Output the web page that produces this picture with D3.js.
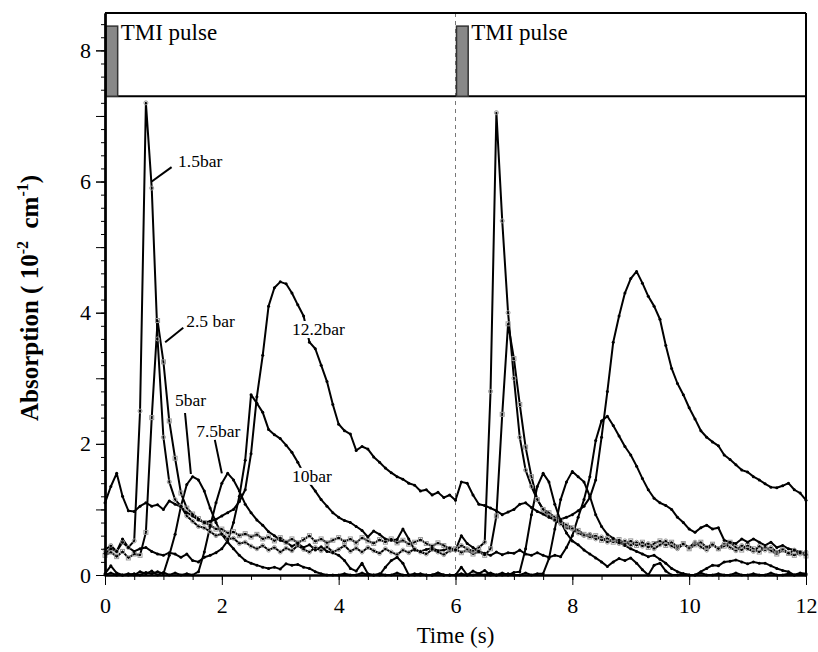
<!DOCTYPE html>
<html>
<head>
<meta charset="utf-8">
<script src="https://cdn.jsdelivr.net/npm/d3@7"></script>
<style>
body { margin: 0; background: #fff; }
svg, svg text { font-family: "Liberation Serif", "Times New Roman", serif; }
</style>
</head>
<body>
<script>
// absorption traces, sampled every 0.1 s from 0 to 12 s (10^-2 cm^-1)
var sampleStep = 0.1;

var p15 = [
 0.38,0.45,0.36,0.50,0.42,0.52,
 2.5,7.2,5.9,3.6,2.1,1.42,1.15,1.05,0.9,0.82,0.74,0.72,0.66,0.6,
 0.63,0.55,0.56,0.48,0.5,0.44,0.4,0.45,0.38,0.42,
 0.35,0.41,0.37,0.45,0.39,0.35,0.42,0.37,0.43,0.35,
 0.39,0.45,0.36,0.41,0.35,0.42,0.37,0.33,0.4,0.35,
 0.31,0.38,0.34,0.4,0.35,0.32,0.39,0.35,0.31,0.37,
 0.38,0.45,0.4,0.36,0.42,0.5,
 2.8,7.05,5.4,4.0,3.0,2.1,1.6,1.35,1.15,1.0,0.9,0.84,0.78,0.72,
 0.7,0.64,0.6,0.62,0.55,0.58,0.5,0.54,0.48,0.52,
 0.45,0.5,0.44,0.48,0.4,0.46,0.52,0.44,0.4,0.47,
 0.42,0.5,0.43,0.38,0.46,0.4,0.48,0.42,0.37,0.45,
 0.4,0.36,0.44,0.38,0.42,0.35,0.4,0.33,0.38,0.32,0.35
];
var p25 = [
 0.3,0.35,0.28,0.36,0.26,0.32,0.3,
 0.65,2.4,3.88,3.25,2.35,1.78,1.25,1.02,0.93,0.86,0.8,0.76,0.7,
 0.7,0.64,0.66,0.6,0.63,0.58,0.62,0.55,0.58,0.52,
 0.57,0.5,0.55,0.49,0.54,0.6,0.51,0.55,0.49,0.53,
 0.57,0.51,0.55,0.49,0.57,0.52,0.48,0.54,0.5,0.55,
 0.49,0.53,0.47,0.5,0.54,0.48,0.44,0.49,0.45,0.4,
 0.4,0.34,0.38,0.32,0.36,0.3,0.4,
 0.9,2.45,3.83,3.3,2.6,1.95,1.5,1.15,1.0,0.95,0.88,0.82,0.76,
 0.72,0.68,0.62,0.58,0.6,0.53,0.56,0.5,0.54,0.47,
 0.52,0.45,0.5,0.42,0.48,0.52,0.45,0.5,0.43,0.48,
 0.4,0.46,0.5,0.42,0.47,0.4,0.44,0.5,0.42,0.38,
 0.45,0.4,0.35,0.42,0.37,0.32,0.38,0.33,0.3,0.34,0.29
];
var p5 = [
 0.02,0.14,0.03,0,0,0.02,0,0.04,0.02,0.05,0.02,
 0.3,0.62,1.05,1.38,1.5,1.45,1.28,1.02,0.8,
 0.62,0.5,0.4,0.3,0.22,0.18,0.15,0.12,0.1,0.12,
 0.09,0.17,0.15,0.16,0.12,0.1,0.05,0.02,0,0,
 0,0.02,0,0,0.03,0,0,0.02,0,0,
 0.03,0,0,0.02,0,0,0,0.03,0,0,
 0,0.02,0,0.06,0.02,0.07,0,0,0.03,0,0.04,0.05,
 0.4,0.92,1.35,1.55,1.42,1.08,0.82,0.64,
 0.52,0.46,0.38,0.32,0.26,0.2,0.13,0.2,0.25,0.22,
 0.26,0.18,0.08,0,0.15,0.18,0.06,0,0,0.02,
 0,0,0.03,0,0,0.02,0,0,0.03,0,
 0,0.02,0,0,0.03,0,0,0.02,0,0.03,0.02
];
var p75 = [
 0,0.03,0,0,0.02,0,0.05,0.02,0.06,0,0.04,0,0.03,0,0.02,0,
 0.05,0.35,0.74,1.1,
 1.4,1.55,1.45,1.28,1.08,0.95,0.84,0.76,0.66,0.6,
 0.53,0.5,0.44,0.48,0.42,0.46,0.38,0.43,0.36,0.34,
 0.3,0.22,0.1,0.06,0.18,0.02,0,0,0.12,0.22,
 0.27,0.18,0,0,0.02,0,0,0.03,0,0,
 0,0.12,0,0,0.02,0,0.03,0,0,0.02,
 0,0,0.03,0,0.02,0.02,0.25,0.7,1.15,1.42,
 1.58,1.5,1.42,1.2,0.92,0.74,0.62,0.56,0.5,0.45,
 0.4,0.36,0.32,0.28,0.3,0.24,0.18,0.1,0.05,0.02,
 0,0,0.05,0.1,0.15,0.14,0.2,0.21,0.23,0.2,
 0.17,0.2,0.18,0.18,0.14,0.1,0.07,0.05,0,0.02,0
];
var p10 = [
 0.33,0.4,0.36,0.55,0.42,0.36,0.4,0.42,0.36,0.32,
 0.3,0.34,0.32,0.27,0.32,0.22,0.2,0.27,0.3,0.34,
 0.4,0.52,0.8,1.2,1.75,2.75,2.62,2.48,2.22,2.14,
 2.08,1.98,1.87,1.72,1.55,1.4,1.28,1.15,1.05,0.95,
 0.88,0.83,0.8,0.74,0.68,0.58,0.67,0.62,0.55,0.53,
 0.54,0.7,0.55,0.38,0.36,0.39,0.41,0.37,0.38,0.41,
 0.38,0.6,0.48,0.42,0.36,0.33,0.3,0.35,0.31,0.34,
 0.33,0.38,0.32,0.3,0.34,0.3,0.27,0.3,0.28,0.42,
 0.6,0.88,1.15,1.5,2.05,2.35,2.42,2.28,2.12,1.96,
 1.83,1.66,1.47,1.3,1.17,1.1,1.06,1.0,0.88,0.8,
 0.7,0.65,0.72,0.76,0.7,0.72,0.53,0.5,0.48,0.55,
 0.5,0.55,0.5,0.45,0.5,0.42,0.45,0.4,0.38,0.35,0.31
];
var p122 = [
 1.1,1.35,1.55,1.2,0.98,0.97,1.05,1.1,1.05,1.07,
 1.0,1.13,1.08,1.04,0.95,0.9,0.84,0.8,0.82,0.85,
 0.9,0.95,1.0,1.12,1.3,1.85,2.72,3.35,4.1,4.38,
 4.47,4.44,4.3,4.12,3.95,3.55,3.45,3.2,2.95,2.6,
 2.3,2.2,2.15,1.9,1.96,1.92,1.8,1.72,1.63,1.56,
 1.5,1.46,1.4,1.37,1.28,1.3,1.22,1.26,1.18,1.22,
 1.14,1.42,1.4,1.22,1.08,1.06,1.02,0.98,0.92,0.96,
 1.0,1.08,1.1,1.03,0.97,0.93,0.88,0.84,0.85,0.88,
 0.92,0.98,1.05,1.18,1.45,2.1,2.8,3.55,3.95,4.3,
 4.52,4.63,4.45,4.25,4.1,3.9,3.5,3.15,2.92,2.75,
 2.55,2.38,2.2,2.1,2.03,1.97,1.83,1.76,1.68,1.6,
 1.57,1.5,1.45,1.39,1.34,1.33,1.36,1.4,1.3,1.25,1.14
];

var seriesNames = ['1.5bar', '2.5 bar', '5bar', '7.5bar', '10bar', '12.2bar'];
var seriesValues = [p15, p25, p5, p75, p10, p122];
var seriesMarker = ['circle', 'square', 'dot', 'dot', 'dot', 'dot'];

// label anchors [time, absorption] and leader lines [t1, a1, t2, a2]
var labelPos = [[1.25, 6.22], [1.39, 3.78], [1.2, 2.58], [1.56, 2.1], [3.2, 1.42], [3.2, 3.66]];
var leaders = [[1.14, 6.22, 0.80, 6.0], [1.34, 3.77, 1.03, 3.55], [1.37, 2.47, 1.47, 1.54], [1.88, 2.06, 2.0, 1.55]];

// TMI pulse strip
var pulseStart = [0, 6];
var pulseLength = 0.2;
var pulseHigh = 8.37;
var pulseLow = 7.3;

var xTicks = [0, 2, 4, 6, 8, 10, 12];
var yTicks = [0, 2, 4, 6, 8];

var serif = '"Liberation Serif", "Times New Roman", serif';

var times = d3.range(p15.length).map(function(i){ return +(i*sampleStep).toFixed(2); });

var svg = d3.select('body').append('svg').attr('width', 818).attr('height', 652);

var x = d3.scaleLinear().domain([0, 12]).range([105, 806]);
var y = d3.scaleLinear().domain([0, 8.57]).range([575, 13]);

// dashed line at the second pulse
svg.append('line')
    .attr('x1', x(6)).attr('x2', x(6))
    .attr('y1', y(8.57)).attr('y2', y(0))
    .attr('stroke', '#777').attr('stroke-width', 1).attr('stroke-dasharray', '4,4');

// pulse strip
svg.append('line')
    .attr('x1', x(0)).attr('x2', x(12))
    .attr('y1', y(pulseLow)).attr('y2', y(pulseLow))
    .attr('stroke', '#000').attr('stroke-width', 2);

svg.selectAll('rect.pulse')
    .data(pulseStart)
    .enter().append('rect')
        .attr('class', 'pulse')
        .attr('x', function(d){ return x(d) + 1; })
        .attr('y', y(pulseHigh))
        .attr('width', function(d){ return x(d + pulseLength) - x(d); })
        .attr('height', y(pulseLow) - y(pulseHigh))
        .attr('fill', '#888')
        .attr('stroke', '#333')
        .attr('stroke-width', 1.5);

svg.selectAll('text.pulse')
    .data(pulseStart)
    .enter().append('text')
        .attr('class', 'pulse')
        .attr('x', function(d){ return x(d + pulseLength) + 4; })
        .attr('y', y(pulseHigh) + 14)
        .attr('font-size', 23)
        .style('font-family', serif)
        .text('TMI pulse');

// curves
var line = d3.line()
    .x(function(d, i){ return x(times[i]); })
    .y(function(d){ return y(d); });

for (var s = 0; s < seriesValues.length; s++) {
    svg.append('path')
        .attr('d', line(seriesValues[s]))
        .attr('fill', 'none')
        .attr('stroke', '#000')
        .attr('stroke-width', 2)
        .attr('stroke-linejoin', 'round');
}

for (var s = 0; s < seriesValues.length; s++) {
    var g = svg.append('g').attr('class', 'marks' + s);
    var pts = seriesValues[s].map(function(v, i){ return {t: times[i], v: v}; });
    if (seriesMarker[s] === 'circle') {
        g.selectAll('circle').data(pts).enter().append('circle')
            .attr('cx', function(d){ return x(d.t); })
            .attr('cy', function(d){ return y(d.v); })
            .attr('r', 2)
            .attr('fill', 'none').attr('stroke', '#999').attr('stroke-width', 1);
    } else if (seriesMarker[s] === 'square') {
        g.selectAll('rect').data(pts).enter().append('rect')
            .attr('x', function(d){ return x(d.t) - 2; })
            .attr('y', function(d){ return y(d.v) - 2; })
            .attr('width', 4).attr('height', 4)
            .attr('fill', 'none').attr('stroke', '#999').attr('stroke-width', 1);
    } else {
        g.selectAll('circle').data(pts).enter().append('circle')
            .attr('cx', function(d){ return x(d.t); })
            .attr('cy', function(d){ return y(d.v); })
            .attr('r', 1.5)
            .attr('fill', '#000');
    }
}

// labels
var labelGroup = svg.append('g');
seriesNames.forEach(function(name, i){
    var t = labelGroup.append('text')
        .attr('x', x(labelPos[i][0]))
        .attr('y', y(labelPos[i][1]))
        .attr('font-size', 17.5)
        .style('font-family', serif)
        .text(name);
    var bb = t.node().getBBox();
    labelGroup.insert('rect', 'text')
        .attr('x', bb.x - 1).attr('y', bb.y + 2)
        .attr('width', bb.width + 2).attr('height', bb.height - 3)
        .attr('fill', '#fff');
});

svg.selectAll('line.leader')
    .data(leaders)
    .enter().append('line')
        .attr('class', 'leader')
        .attr('x1', function(d){ return x(d[0]); })
        .attr('y1', function(d){ return y(d[1]); })
        .attr('x2', function(d){ return x(d[2]); })
        .attr('y2', function(d){ return y(d[3]); })
        .attr('stroke', '#000').attr('stroke-width', 2);

// frame
svg.append('line').attr('x1', x(0)).attr('x2', x(12)).attr('y1', y(8.57)).attr('y2', y(8.57))
    .attr('stroke', '#000').attr('stroke-width', 2);
svg.append('line').attr('x1', x(12)).attr('x2', x(12)).attr('y1', y(8.57)).attr('y2', y(0))
    .attr('stroke', '#000').attr('stroke-width', 2);

// axes
function styleAxis(g) {
    g.select('.domain').attr('stroke-width', 2);
    g.selectAll('.tick line').attr('stroke-width', 1);
    g.selectAll('.tick text').attr('font-size', 22).attr('fill', '#000').style('font-family', serif);
}

svg.append('g').attr('transform', 'translate(0,' + y(0) + ')')
    .call(d3.axisBottom(x).tickValues(d3.range(0, 12.01, 0.5)).tickSize(5).tickSizeOuter(0).tickFormat(''))
    .call(styleAxis);
svg.append('g').attr('transform', 'translate(0,' + y(0) + ')')
    .call(d3.axisBottom(x).tickValues(xTicks).tickSize(10).tickSizeOuter(0).tickPadding(12).tickFormat(d3.format('d')))
    .call(styleAxis);

svg.append('g').attr('transform', 'translate(' + x(0) + ',0)')
    .call(d3.axisLeft(y).tickValues(d3.range(0, 8.5, 0.2)).tickSize(4).tickSizeOuter(0).tickFormat(''))
    .call(styleAxis);
svg.append('g').attr('transform', 'translate(' + x(0) + ',0)')
    .call(d3.axisLeft(y).tickValues(d3.range(0, 9, 1)).tickSize(9).tickSizeOuter(0).tickFormat(''))
    .call(styleAxis);
svg.append('g').attr('transform', 'translate(' + x(0) + ',0)')
    .call(d3.axisLeft(y).tickValues(yTicks).tickSize(9).tickSizeOuter(0).tickPadding(5).tickFormat(d3.format('d')))
    .call(styleAxis);

// axis titles
svg.append('text')
    .attr('x', (x(0) + x(12)) / 2)
    .attr('y', 643)
    .attr('text-anchor', 'middle')
    .attr('font-size', 23)
    .style('font-family', serif)
    .text('Time (s)');

var yt = svg.append('text')
    .attr('transform', 'translate(38,298) rotate(-90)')
    .attr('text-anchor', 'middle')
    .attr('font-size', 25)
    .attr('font-weight', 'bold')
    .style('font-family', serif);
yt.append('tspan').text('Absorption\u00a0(\u00a010');
yt.append('tspan').attr('font-size', 16).attr('dy', -10).text('-2');
yt.append('tspan').attr('dy', 10).text('\u00a0\u00a0cm');
yt.append('tspan').attr('font-size', 16).attr('dy', -10).text('-1');
yt.append('tspan').attr('dy', 10).text(')');
</script>
</body>
</html>
